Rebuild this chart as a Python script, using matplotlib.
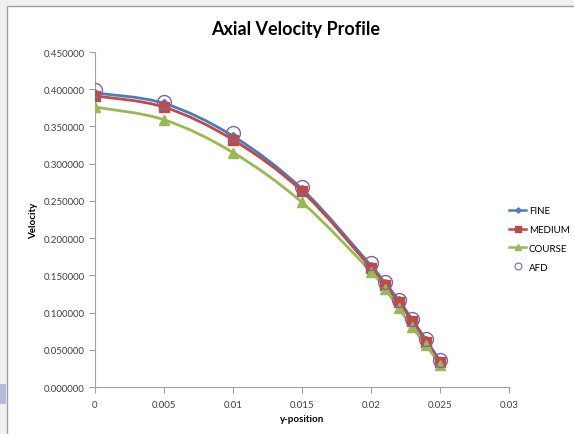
import matplotlib
matplotlib.use("Agg")
import matplotlib.pyplot as plt
import numpy as np
from matplotlib.path import Path
from matplotlib.patches import PathPatch, Rectangle
from matplotlib.lines import Line2D

# Data
y_position = [0.0, 0.005, 0.01, 0.015, 0.02, 0.021, 0.022, 0.023, 0.024, 0.025]
fine = [0.395, 0.381, 0.337, 0.266, 0.163, 0.140, 0.117, 0.090, 0.063, 0.035]
medium = [0.391, 0.376, 0.332, 0.263, 0.160, 0.137, 0.114, 0.088, 0.061, 0.033]
course = [0.376, 0.359, 0.315, 0.248, 0.155, 0.132, 0.106, 0.080, 0.056, 0.030]
afd = [0.399, 0.383, 0.341, 0.269, 0.167, 0.141, 0.117, 0.091, 0.065, 0.036]

x_ticks = [0, 0.005, 0.01, 0.015, 0.02, 0.025, 0.03]
x_tick_labels = ["0", "0.005", "0.01", "0.015", "0.02", "0.025", "0.03"]
y_ticks = [0.0, 0.05, 0.1, 0.15, 0.2, 0.25, 0.3, 0.35, 0.4, 0.45]

plt.rcParams['font.family'] = ['Lato', 'DejaVu Sans']


def smooth_path(xs, ys, t=1 / 6):
    """Excel-like smoothed line as a cubic Bezier path through the points."""
    pts = np.column_stack([xs, ys])
    verts = [pts[0]]
    codes = [Path.MOVETO]
    n = len(pts)
    for i in range(n - 1):
        p0 = pts[i - 1] if i > 0 else pts[i]
        p1, p2 = pts[i], pts[i + 1]
        p3 = pts[i + 2] if i + 2 < n else pts[i + 1]
        c1 = p1 + (p2 - p0) * t
        c2 = p2 - (p3 - p1) * t
        verts += [c1, c2, p2]
        codes += [Path.CURVE4] * 3
    return Path(verts, codes)


fig = plt.figure(figsize=(5.74, 4.35), dpi=100)
fig.patch.set_facecolor('#f0f0f0')

# chart frame (white panel)
frame = Rectangle((7 / 574, -0.01), 1.0, 1 - 7 / 435 + 0.01, transform=fig.transFigure,
                  facecolor='white', edgecolor='#a0a0a0', linewidth=1.0, zorder=-10)
fig.patches.append(frame)
side = Rectangle((0, 1 - 405 / 435), 6 / 574, 20 / 435, transform=fig.transFigure,
                 facecolor='#b8b8dc', edgecolor='none', zorder=-10)
fig.patches.append(side)

ax = fig.add_axes([95 / 574, 1 - 388 / 435, (509 - 95) / 574, (388 - 53) / 435])
ax.set_facecolor('none')
ax.set_zorder(1)

series = [
    ("FINE", fine, '#4a7ebb', 'D', 4.5),
    ("MEDIUM", medium, '#be4b48', 's', 7),
    ("COURSE", course, '#98b954', '^', 7.5),
]
handles = []
for name, vals, color, marker, ms in series:
    ax.add_patch(PathPatch(smooth_path(y_position, vals), facecolor='none',
                           edgecolor=color, linewidth=2.0, zorder=2))
    ax.plot(y_position, vals, linestyle='none', marker=marker, markersize=ms,
            color=color, zorder=3)
    handles.append(Line2D([], [], color=color, linewidth=1.8, marker=marker,
                          markersize=ms * 0.6, label=name))

ax.plot(y_position, afd, linestyle='none', marker='o', markersize=10,
        markerfacecolor='none', markeredgecolor='#8064a2', markeredgewidth=1.0, zorder=4)
handles.append(Line2D([], [], linestyle='none', marker='o', markersize=5,
                      markerfacecolor='none', markeredgecolor='#8064a2',
                      markeredgewidth=0.8, label='AFD'))

ax.set_xlim(0, 0.03)
ax.set_ylim(0, 0.45)
ax.set_xticks(x_ticks)
ax.set_xticklabels(x_tick_labels)
ax.set_yticks(y_ticks)
ax.set_yticklabels([f"{v:.6f}" for v in y_ticks])
ax.tick_params(labelsize=7, colors='#404040', length=4, width=0.8, color='#a0a0a0')
ax.tick_params(axis='x', pad=5)
for s in ['top', 'right']:
    ax.spines[s].set_visible(False)
for s in ['left', 'bottom']:
    ax.spines[s].set_color('#a0a0a0')

ax.set_xlabel('y-position', fontsize=7, fontweight='bold', labelpad=4)
ax.set_ylabel('Velocity', fontsize=7, fontweight='bold', labelpad=4)
fig.text(0.515, 1 - 30 / 435, 'Axial Velocity Profile', ha='center', va='center',
         fontsize=13, fontweight='bold')

fig.legend(handles=handles, loc='center left', bbox_to_anchor=(500 / 574, 1 - 240 / 435),
           frameon=False, fontsize=7, handlelength=1.8, labelspacing=1.0,
           handletextpad=0.25)

fig.savefig('out.png', dpi=100, facecolor=fig.get_facecolor())
